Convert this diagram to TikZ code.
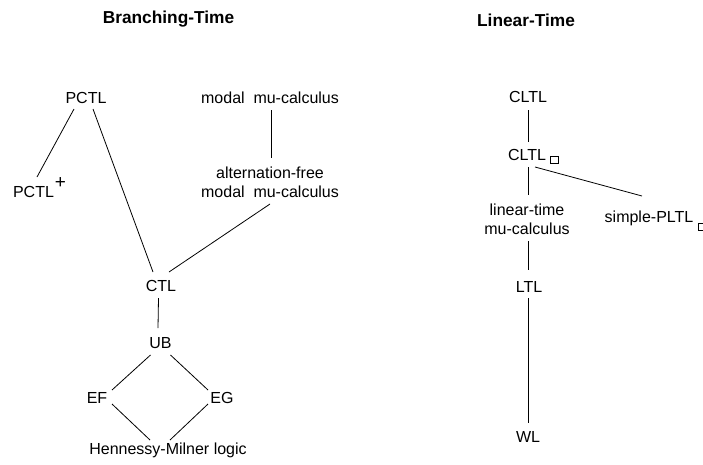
\documentclass[tikz,border=0pt]{standalone}
\usepackage{fontspec}
\setmainfont{Liberation Sans}
\usetikzlibrary{calc}
\begin{document}
\begin{tikzpicture}[x=1pt,y=-1pt,
  lbl/.style={inner sep=0pt,font=\fontsize{16}{19}\selectfont,align=center},
  ttl/.style={inner sep=0pt,font=\fontsize{17.3}{20}\selectfont\bfseries},
  edge/.style={line width=0.8pt,black},
  sq/.style={draw,line width=0.8pt,minimum width=8pt,minimum height=7pt,inner sep=0pt}]
\useasboundingbox (0,0) rectangle (703,464);
\node[ttl] (bt) at (168.5,19) {Branching-Time};
\node[ttl] (lt) at (526,20) {Linear-Time};
% branching
\node[lbl] (pctl) at (86,98) {PCTL};
\node[lbl] (modal) at (270,98) {modal\hspace{0.55em}mu-calculus};
\node[lbl] (pctlp) at (33.5,191.5) {PCTL};
\node[lbl,font=\fontsize{19}{20}\selectfont] (plus) at (60.5,183.5) {+};
\node[lbl] (alt) at (270,182) {alternation-free\\modal\hspace{0.55em}mu-calculus};
\node[lbl] (ctl) at (161,286) {CTL};
\node[lbl] (ub) at (160.5,343) {UB};
\node[lbl] (ef) at (97,398) {EF};
\node[lbl] (eg) at (222,398) {EG};
\node[lbl] (hm) at (168,450) {Hennessy-Milner logic};
% linear
\node[lbl] (cltl) at (528,97) {CLTL};
\node[lbl] (cltlb) at (527,155) {CLTL};
\node[sq] (boxa) at (554,160) {};
\node[lbl] (ltmu) at (527,219) {linear-time\\mu-calculus};
\node[lbl] (spltl) at (649,218) {simple-PLTL};
\node[sq] (boxb) at (702,227) {};
\node[lbl] (ltl) at (529,287) {LTL};
\node[lbl] (wl) at (528,437) {WL};
% edges
\draw[edge] ($(pctl)+(-12,11)$) -- ($(pctlp)+(3.5,-14.5)$);
\draw[edge] ($(pctl)+(7,11)$) -- ($(ctl)+(-8,-14)$);
\draw[edge] ($(modal)+(1,12)$) -- ($(alt)+(1,-24)$);
\draw[edge] ($(alt)+(0,22)$) -- ($(ctl)+(8,-14)$);
\draw[edge] ($(ctl)+(-2.5,12)$) -- ($(ub)+(-2.5,-15)$);
\draw[edge] ($(ub)+(-10,12)$) -- ($(ef)+(15,-8)$);
\draw[edge] ($(ub)+(10,12)$) -- ($(eg)+(-14,-8)$);
\draw[edge] ($(ef)+(15,6)$) -- ($(hm)+(-18,-10)$);
\draw[edge] ($(eg)+(-14,6)$) -- ($(hm)+(2,-10)$);
\draw[edge] ($(cltl)+(0,13)$) -- ($(cltlb)+(1,-13)$);
\draw[edge] ($(cltlb)+(1,12)$) -- ($(ltmu)+(1,-24)$);
\draw[edge] ($(cltlb)+(8,12)$) -- ($(spltl)+(-7,-22)$);
\draw[edge] ($(ltmu)+(1,22)$) -- ($(ltl)+(-1,-17)$);
\draw[edge] ($(ltl)+(-1,11)$) -- ($(wl)+(0,-14)$);
\end{tikzpicture}
\end{document}
